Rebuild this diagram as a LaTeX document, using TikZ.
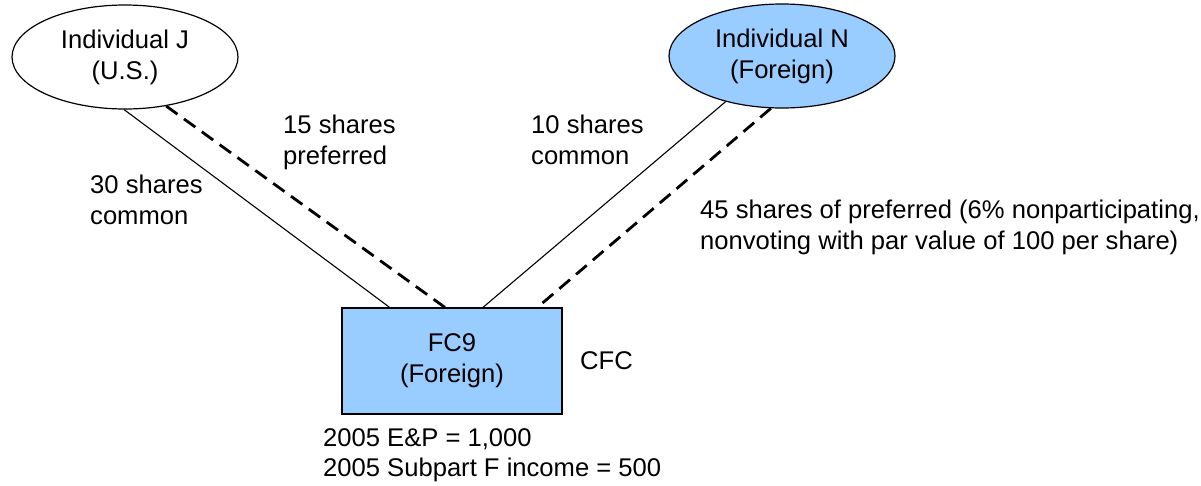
\documentclass[tikz,border=0pt]{standalone}
\usepackage{fontspec}
\setmainfont{Liberation Sans}
\usetikzlibrary{shapes.geometric,calc}
\definecolor{lblue}{RGB}{153,204,255}
\begin{document}
\begin{tikzpicture}[x=1pt,y=-1pt,
  every node/.style={font=\fontsize{25.6}{30.8}\selectfont},
  owner/.style={ellipse,draw,line width=1.2pt,minimum width=226pt,minimum height=104pt,inner sep=0pt,align=center},
  corp/.style={rectangle,draw,line width=1.2pt,fill=lblue,minimum width=220pt,minimum height=106pt,inner sep=0pt,align=center},
  lbl/.style={align=left,anchor=north west,inner sep=0pt},
  common/.style={line width=1.1pt},
  pref/.style={line width=2.8pt,dash pattern=on 14pt off 8pt}]
\useasboundingbox (0,0) rectangle (1201,485);
\node[owner] (J) at (125,57) {Individual J\\(U.S.)};
\node[owner,fill=lblue] (N) at (782,56) {Individual N\\(Foreign)};
\node[corp] (F) at (452,361) {FC9\\(Foreign)};
\node[anchor=west,inner sep=0pt] (cfc) at (580,361) {CFC};
\node[lbl] (l15) at (283,115) {15 shares\\preferred};
\node[lbl] (l30) at (90,175) {30 shares\\common};
\node[lbl] (l10) at (531,115) {10 shares\\common};
\node[lbl] (l45) at (700,200) {45 shares of preferred (6\% nonparticipating,\\nonvoting with par value of 100 per share)};
\node[lbl] (ep) at (323,428) {2005 E\&P = 1,000\\2005 Subpart F income = 500};
\draw[common] (J.-91) -- ($(F.north west)!0.218!(F.north east)$);
\draw[pref] (J.-50) -- ($(F.north west)!0.468!(F.north east)$);
\draw[common] (N.-141) -- ($(F.north west)!0.64!(F.north east)$);
\draw[pref] (N.-102) -- ($(F.north west)!0.886!(F.north east)$);
\end{tikzpicture}
\end{document}
